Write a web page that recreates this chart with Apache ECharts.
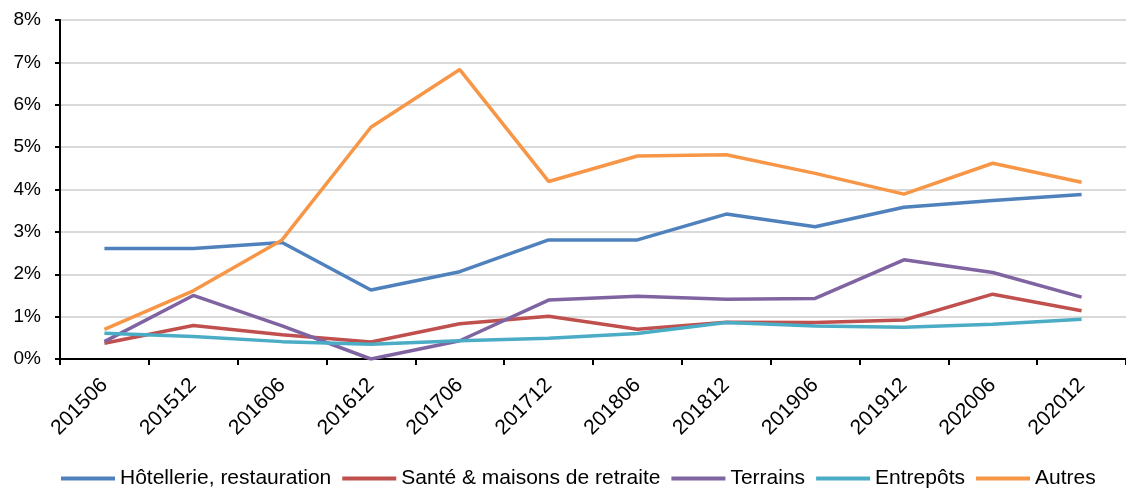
<!DOCTYPE html>
<html>
<head>
<meta charset="utf-8">
<script src="https://cdn.jsdelivr.net/npm/echarts@6/dist/echarts.min.js"></script>
<style>
  html, body { margin: 0; padding: 0; background: #fff; }
  #chart { width: 1126px; height: 489px; }
</style>
</head>
<body>
<div id="chart"></div>
<script>
const periods = ['201506', '201512', '201606', '201612', '201706', '201712', '201806', '201812', '201906', '201912', '202006', '202012'];

// valeurs en %
const hotellerie = [2.61, 2.61, 2.75, 1.63, 2.06, 2.81, 2.81, 3.42, 3.12, 3.58, 3.74, 3.88];
const sante      = [0.37, 0.79, 0.57, 0.40, 0.83, 1.01, 0.70, 0.87, 0.86, 0.92, 1.53, 1.14];
const terrains   = [0.41, 1.50, 0.78, 0.00, 0.43, 1.39, 1.48, 1.41, 1.43, 2.34, 2.04, 1.46];
const entrepots  = [0.61, 0.53, 0.41, 0.35, 0.43, 0.49, 0.60, 0.86, 0.78, 0.75, 0.82, 0.94];
const autres     = [0.70, 1.61, 2.81, 5.47, 6.83, 4.19, 4.79, 4.82, 4.38, 3.89, 4.62, 4.17];

const seriesNames = ['Hôtellerie, restauration', 'Santé & maisons de retraite', 'Terrains', 'Entrepôts', 'Autres'];
const seriesData = [hotellerie, sante, terrains, entrepots, autres];
const colors = ['#4F81BD', '#C0504D', '#8064A2', '#4BACC6', '#F79646'];

const myChart = echarts.init(document.getElementById('chart'));
const font = 'Liberation Sans, Arial, sans-serif';

const option = {
  backgroundColor: '#fff',
  animation: false,
  color: colors,
  textStyle: { fontFamily: font, color: '#000' },
  grid: { left: 60, top: 20, right: -2, bottom: 130 },
  legend: {
    top: 463,
    left: 56,
    itemWidth: 54,
    itemHeight: 4,
    itemGap: 11,
    icon: 'rect',
    textStyle: { fontFamily: font, fontSize: 21, color: '#000', padding: [0, 0, 0, 0] },
    data: seriesNames
  },
  xAxis: {
    type: 'category',
    data: periods,
    boundaryGap: true,
    axisLine: { lineStyle: { color: '#000', width: 2 } },
    axisTick: { show: true, length: 6, lineStyle: { color: '#000', width: 2 } },
    axisLabel: { rotate: 45, fontSize: 21, color: '#000', fontFamily: font, margin: 23 }
  },
  yAxis: {
    type: 'value',
    min: 0,
    max: 8,
    interval: 1,
    axisLine: { show: true, lineStyle: { color: '#000', width: 2 } },
    axisTick: { show: true, length: 5, lineStyle: { color: '#000', width: 2 } },
    axisLabel: { formatter: '{value}%', fontSize: 19, color: '#000', fontFamily: font, margin: 19 },
    splitLine: { lineStyle: { color: '#D9D9D9', width: 2 } }
  },
  series: seriesNames.map((name, i) => ({
    name: name,
    type: 'line',
    data: seriesData[i],
    symbol: 'none',
    lineStyle: { width: 3.5, color: colors[i] }
  }))
};

option && myChart.setOption(option);
</script>
</body>
</html>
